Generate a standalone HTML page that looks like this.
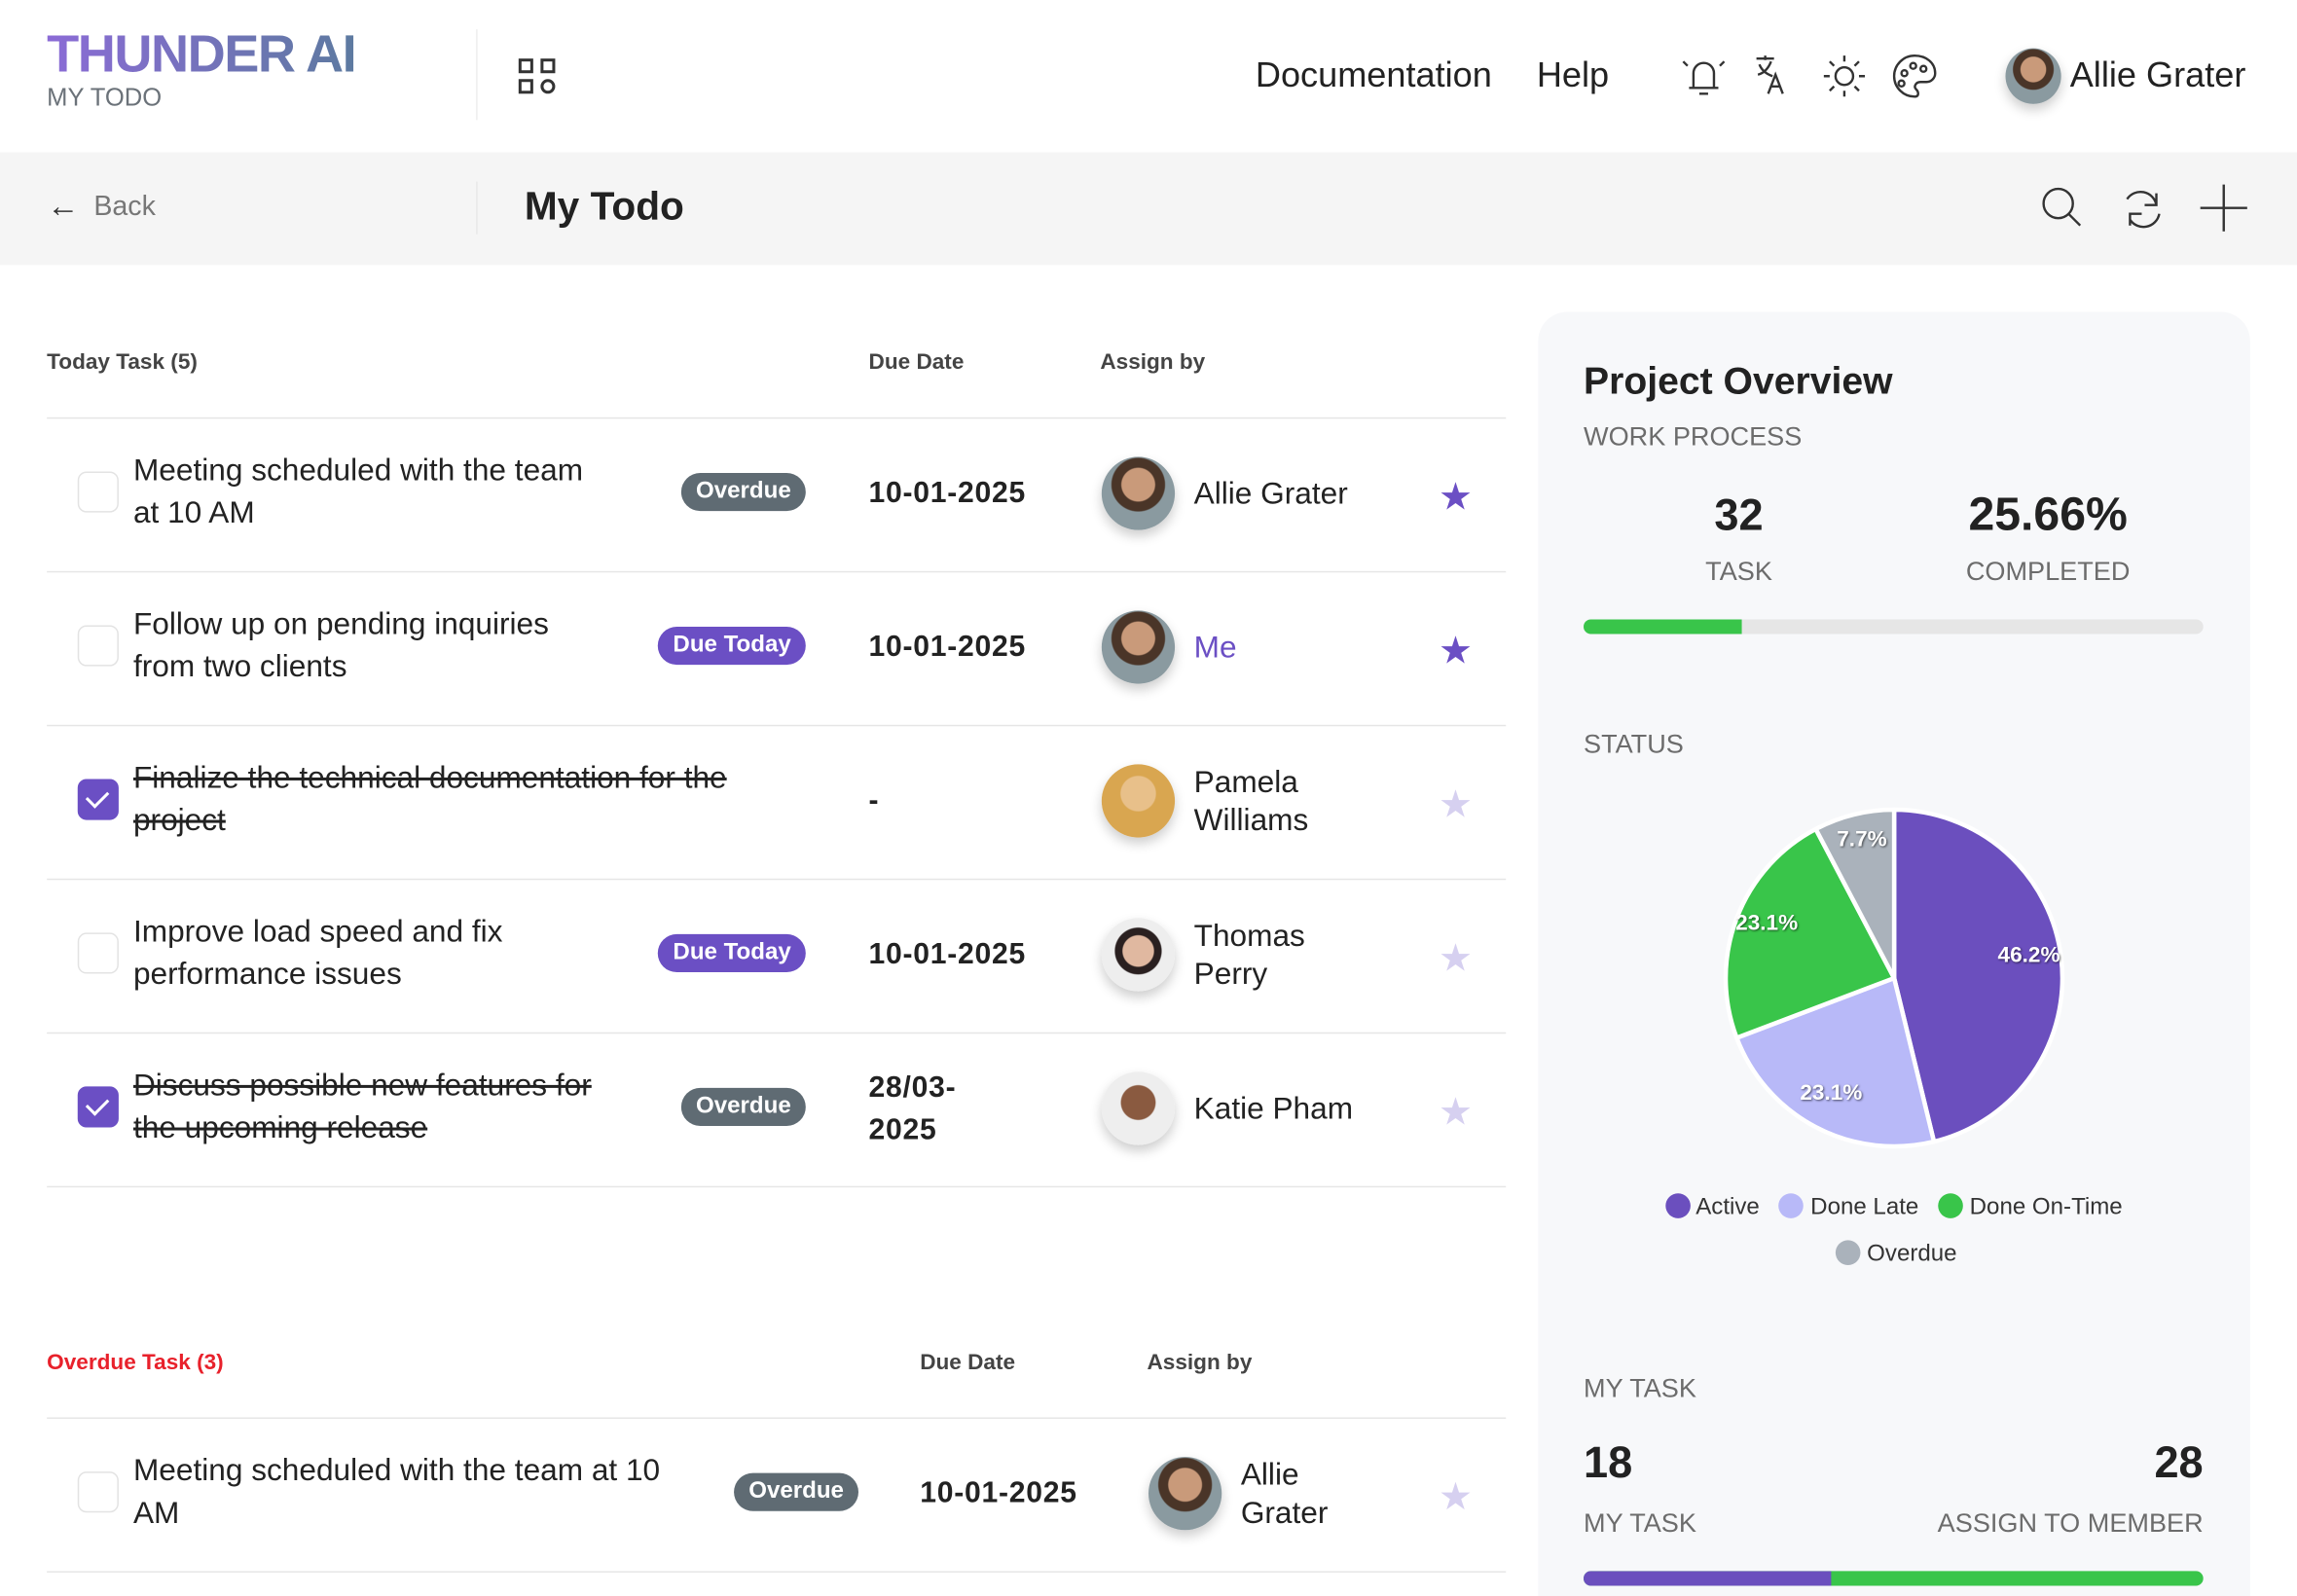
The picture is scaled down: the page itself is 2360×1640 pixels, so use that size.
<!DOCTYPE html>
<html><head><meta charset="utf-8"><style>
*{margin:0;padding:0;box-sizing:border-box}
html,body{width:2360px;height:1640px;overflow:hidden;background:#fff}
#s{width:1568px;height:1090px;transform:scale(1.50510,1.50459);transform-origin:0 0;position:relative;font-family:"Liberation Sans",sans-serif;color:#222}
.a{position:absolute;white-space:nowrap}
.hd{font-size:15px;font-weight:bold;color:#444}
.cb{position:absolute;width:28px;height:28px;border:1.5px solid #e3e3e3;border-radius:6px;background:#fff}
.cb.on{background:#6b4fc4;border-color:#6b4fc4}
.cb.on:after{content:"";position:absolute;left:8px;top:4px;width:7px;height:12px;border:solid #fff;border-width:0 2.5px 2.5px 0;transform:rotate(45deg)}
.t{position:absolute;font-size:21px;line-height:29px;color:#222}
.st{text-decoration:line-through}
.bd{position:absolute;height:26px;border-radius:13px;color:#fff;font-size:16px;font-weight:bold;line-height:26px;padding:0 10px}
.ov{background:#5f6b73}.dt{background:#6b4fc4}
.dd{position:absolute;font-size:20px;font-weight:bold;line-height:29px;letter-spacing:.5px}
.av{position:absolute;width:50px;height:50px;border-radius:50%;background:radial-gradient(circle at 50% 38%,#c99a7a 0 28%,#4a3528 30% 45%,#8a9aa0 47%);box-shadow:0 4px 8px rgba(0,0,0,.2)}
.nm{position:absolute;font-size:21px;line-height:26px}
.star{position:absolute;font-size:26px;color:#6b4fc4;line-height:26px}
.star.l{color:#d6d0f0}
.ln{position:absolute;left:32px;width:996px;height:1px;background:#e6e6e6}
.g{color:#6c6c6c}
</style></head><body><div id="s">
<div class="a" style="left:32px;top:16px;font-size:36px;font-weight:900;letter-spacing:-1px;background:linear-gradient(90deg,#8b6bd6,#5d7aa0);-webkit-background-clip:text;color:transparent">THUNDER AI</div>
<div class="a" style="left:32px;top:57px;font-size:17px;color:#6b7279">MY TODO</div>
<div class="a" style="left:325px;top:20px;width:1px;height:62px;background:#eee"></div>
<div class="a" style="left:354px;top:40px;width:10px;height:10px;border:2px solid #333"></div>
<div class="a" style="left:369px;top:40px;width:10px;height:10px;border:2px solid #333"></div>
<div class="a" style="left:354px;top:54px;width:10px;height:10px;border:2px solid #333"></div>
<div class="a" style="left:369px;top:54px;width:10px;height:10px;border:2px solid #333;border-radius:50%"></div>
<div class="a" style="left:857px;top:38px;font-size:24px">Documentation</div>
<div class="a" style="left:1049px;top:38px;font-size:24px">Help</div>
<svg class="a" style="left:1145px;top:34px" width="180" height="36" fill="none" stroke="#333" stroke-width="1.6">
<path d="M8 26h20M11 26v-10a7 7 0 0 1 14 0v10M15 30h6M4 8l3 3M32 8l-3 3"/>
<path d="M54 6h12M60 4v3M56 10c2 5 6 7 9 8M64 8c-2 5-5 8-9 9M62 30l5-13 5 13M64 25h6"/>
<circle cx="114" cy="18" r="6"/><path d="M114 4v4M114 28v4M100 18h4M124 18h4M104 8l3 3M124 8l-3 3M104 28l3-3M124 28l-3-3"/>
<path d="M162 4a14 14 0 1 0 0 28c3 0 3-3 1-5s0-5 3-5h4a6 6 0 0 0 6-6c0-7-6-12-14-12z"/><circle cx="155" cy="16" r="2"/><circle cx="161" cy="11" r="2"/><circle cx="168" cy="13" r="2"/><circle cx="153" cy="23" r="2"/>
</svg>
<div class="av" style="left:1369px;top:33px;width:38px;height:38px"></div>
<div class="a" style="left:1413px;top:38px;font-size:24px">Allie Grater</div>
<div class="a" style="left:0;top:104px;width:1568px;height:77px;background:#f5f5f5"></div>
<div class="a" style="left:32px;top:128px;font-size:22px;color:#333">&#8592;</div>
<div class="a" style="left:64px;top:131px;font-size:19px;color:#777">Back</div>
<div class="a" style="left:325px;top:124px;width:1px;height:36px;background:#e8e8e8"></div>
<div class="a" style="left:358px;top:126px;font-size:27px;font-weight:bold">My Todo</div>
<svg class="a" style="left:1390px;top:124px" width="150" height="36" fill="none" stroke="#333" stroke-width="1.6">
<circle cx="15" cy="15" r="10"/><path d="M22 22l8 8"/>
<path d="M62 12a11 11 0 0 1 20 4M84 22a11 11 0 0 1-20 4M82 8v8h-8M64 30v-8h8"/>
<path d="M128 2v32M112 18h32"/>
</svg>
<div class="a hd" style="left:32px;top:239px">Today Task (5)</div>
<div class="a hd" style="left:593px;top:239px">Due Date</div>
<div class="a hd" style="left:751px;top:239px">Assign by</div>
<div class="ln" style="top:285px"></div><div class="ln" style="top:390px"></div><div class="ln" style="top:495px"></div><div class="ln" style="top:600px"></div><div class="ln" style="top:705px"></div><div class="ln" style="top:810px"></div>

<div class="cb" style="left:53px;top:322px"></div>
<div class="t" style="left:91px;top:307px">Meeting scheduled with the team<br>at 10 AM</div>
<div class="bd ov" style="right:1018px;top:323px">Overdue</div>
<div class="dd" style="left:593px;top:323px">10-01-2025</div>
<div class="av" style="left:752px;top:312px"></div>
<div class="nm" style="left:815px;top:325px">Allie Grater</div>
<div class="star" style="left:982px;top:326px">&#9733;</div>

<div class="cb" style="left:53px;top:427px"></div>
<div class="t" style="left:91px;top:412px">Follow up on pending inquiries<br>from two clients</div>
<div class="bd dt" style="right:1018px;top:428px">Due Today</div>
<div class="dd" style="left:593px;top:428px">10-01-2025</div>
<div class="av" style="left:752px;top:417px"></div>
<div class="nm" style="left:815px;top:430px;color:#6b4fc4">Me</div>
<div class="star" style="left:982px;top:431px">&#9733;</div>

<div class="cb on" style="left:53px;top:532px"></div>
<div class="t st" style="left:91px;top:517px">Finalize the technical documentation for the<br>project</div>
<div class="dd" style="left:593px;top:533px">-</div>
<div class="av" style="left:752px;top:522px;background:radial-gradient(circle at 50% 40%,#e8c08a 0 30%,#d9a650 32%)"></div>
<div class="nm" style="left:815px;top:522px">Pamela<br>Williams</div>
<div class="star l" style="left:982px;top:536px">&#9733;</div>

<div class="cb" style="left:53px;top:637px"></div>
<div class="t" style="left:91px;top:622px">Improve load speed and fix<br>performance issues</div>
<div class="bd dt" style="right:1018px;top:638px">Due Today</div>
<div class="dd" style="left:593px;top:638px">10-01-2025</div>
<div class="av" style="left:752px;top:627px;background:radial-gradient(circle at 50% 45%,#e0b8a0 0 28%,#2a2020 30% 42%,#eee 44%)"></div>
<div class="nm" style="left:815px;top:627px">Thomas<br>Perry</div>
<div class="star l" style="left:982px;top:641px">&#9733;</div>

<div class="cb on" style="left:53px;top:742px"></div>
<div class="t st" style="left:91px;top:727px">Discuss possible new features for<br>the upcoming release</div>
<div class="bd ov" style="right:1018px;top:743px">Overdue</div>
<div class="dd" style="left:593px;top:729px">28/03-<br>2025</div>
<div class="av" style="left:752px;top:732px;background:radial-gradient(circle at 50% 42%,#8a5a40 0 30%,#eee 32%)"></div>
<div class="nm" style="left:815px;top:745px">Katie Pham</div>
<div class="star l" style="left:982px;top:746px">&#9733;</div>

<div class="a hd" style="left:32px;top:922px;color:#e8212b">Overdue Task (3)</div>
<div class="a hd" style="left:628px;top:922px">Due Date</div>
<div class="a hd" style="left:783px;top:922px">Assign by</div>
<div class="ln" style="top:968px"></div><div class="ln" style="top:1073px"></div>
<div class="cb" style="left:53px;top:1005px"></div>
<div class="t" style="left:91px;top:990px">Meeting scheduled with the team at 10<br>AM</div>
<div class="bd ov" style="right:982px;top:1006px">Overdue</div>
<div class="dd" style="left:628px;top:1006px">10-01-2025</div>
<div class="av" style="left:784px;top:995px"></div>
<div class="nm" style="left:847px;top:995px">Allie<br>Grater</div>
<div class="star l" style="left:982px;top:1009px">&#9733;</div>

<div class="a" style="left:1050px;top:213px;width:486px;height:900px;background:#f7f8fa;border-radius:20px"></div>
<div class="a" style="left:1081px;top:245px;font-size:26px;font-weight:bold">Project Overview</div>
<div class="a g" style="left:1081px;top:288px;font-size:18px">WORK PROCESS</div>
<div class="a" style="left:1137px;top:336px;width:100px;text-align:center;font-size:30px;font-weight:bold">32</div>
<div class="a g" style="left:1137px;top:380px;width:100px;text-align:center;font-size:18px">TASK</div>
<div class="a" style="left:1318px;top:333px;width:160px;text-align:center;font-size:32px;font-weight:bold">25.66%</div>
<div class="a g" style="left:1318px;top:380px;width:160px;text-align:center;font-size:18px">COMPLETED</div>
<div class="a" style="left:1081px;top:423px;width:423px;height:10px;border-radius:5px;background:#e6e6e6;overflow:hidden"><div style="width:108px;height:10px;background:#39c54a"></div></div>
<div class="a g" style="left:1081px;top:498px;font-size:18px">STATUS</div>
<svg class="a" style="left:1150px;top:530px" width="290" height="280" viewBox="1150 530 290 280">
<g stroke="#fff" stroke-width="3" stroke-linejoin="round">
<path d="M1293 668L1293 553A115 115 0 0 1 1320.2 779.7Z" fill="#6b4fbe"/>
<path d="M1293 668L1320.2 779.7A115 115 0 0 1 1185.5 708.8Z" fill="#b8b9f8"/>
<path d="M1293 668L1185.5 708.8A115 115 0 0 1 1239.5 566.2Z" fill="#39c54a"/>
<path d="M1293 668L1239.5 566.2A115 115 0 0 1 1293 553Z" fill="#aab2bb"/>
</g>
<g fill="#fff" font-family="Liberation Sans" font-weight="bold" font-size="15" style="text-shadow:1px 1px 2px rgba(0,0,0,.6)">
<text x="1385" y="657" text-anchor="middle">46.2%</text>
<text x="1250" y="751" text-anchor="middle">23.1%</text>
<text x="1206" y="635" text-anchor="middle">23.1%</text>
<text x="1271" y="578" text-anchor="middle">7.7%</text>
</g></svg>
<div class="a" style="left:1137px;top:815px;font-size:16px;color:#333;line-height:18px">
<span style="display:inline-block;width:17px;height:17px;border-radius:50%;background:#6b4fbe;vertical-align:-3px"></span> Active &nbsp;
<span style="display:inline-block;width:17px;height:17px;border-radius:50%;background:#b8b9f8;vertical-align:-3px"></span> Done Late &nbsp;
<span style="display:inline-block;width:17px;height:17px;border-radius:50%;background:#39c54a;vertical-align:-3px"></span> Done On-Time</div>
<div class="a" style="left:1253px;top:847px;font-size:16px;color:#333;line-height:18px"><span style="display:inline-block;width:17px;height:17px;border-radius:50%;background:#aab2bb;vertical-align:-3px"></span> Overdue</div>
<div class="a g" style="left:1081px;top:938px;font-size:18px">MY TASK</div>
<div class="a" style="left:1081px;top:983px;font-size:30px;font-weight:bold">18</div>
<div class="a" style="right:64px;top:983px;font-size:30px;font-weight:bold">28</div>
<div class="a g" style="left:1081px;top:1030px;font-size:18px">MY TASK</div>
<div class="a g" style="right:64px;top:1030px;font-size:18px">ASSIGN TO MEMBER</div>
<div class="a" style="left:1081px;top:1073px;width:423px;height:10px;border-radius:5px;overflow:hidden;background:#39c54a"><div style="width:169px;height:10px;background:#6b4fbe"></div></div>
</div></body></html>
